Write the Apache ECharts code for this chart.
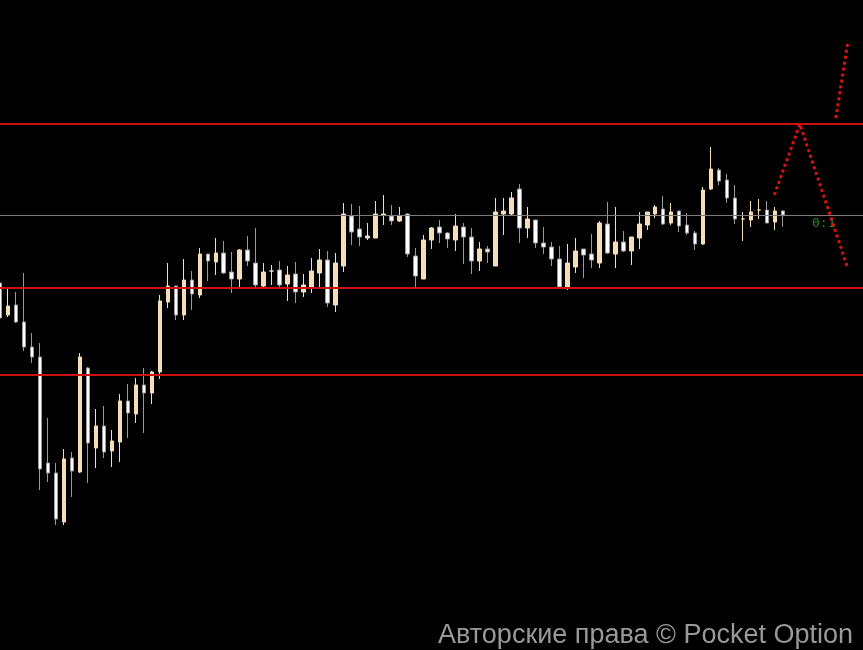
<!DOCTYPE html>
<html>
<head>
<meta charset="utf-8">
<script src="https://cdn.jsdelivr.net/npm/echarts@6/dist/echarts.min.js"></script>
<style>html,body{margin:0;padding:0;background:#000;}#c{width:863px;height:650px;}</style>
</head>
<body>
<div id="c"></div>
<script>
// Price values in arbitrary points (no axis labels in the reference)
var openVals  = [717,685,695,678,653,643,537,527,478,542,528,632,552,574,549,558,599,586,615,607,628,698,714,685,720,705,746,738,747,728,721,750,737,714,729,730,716,726,708,713,727,740,695,734,784,771,762,762,785,784,779,786,744,721,760,773,767,760,773,763,739,751,734,786,786,811,772,780,757,753,741,712,733,751,746,737,776,746,758,749,762,775,786,791,777,789,775,767,756,811,830,820,802,781,780,790,790,778,789];
var closeVals = [682,694,678,653,643,531,527,481,541,529,643,557,574,548,559,599,587,615,607,628,699,714,685,720,706,746,739,747,727,721,750,739,715,728,729,715,725,708,715,729,740,697,737,786,768,763,764,786,786,779,784,746,724,760,772,767,761,774,763,739,751,748,788,789,802,772,781,757,753,741,713,737,749,745,740,777,747,758,749,763,776,788,793,776,788,774,767,756,810,831,819,802,781,781,788,790,777,789,785];
var lowVals   = [677,683,677,649,637,510,518,475,475,503,527,517,532,542,533,538,562,577,567,596,621,692,680,680,690,702,719,725,726,707,713,734,713,713,715,713,699,697,703,707,713,693,688,728,755,754,760,762,775,775,778,743,713,721,751,757,752,749,736,726,729,737,734,765,785,757,762,752,746,734,712,710,727,722,732,732,746,732,748,735,751,770,782,775,775,768,765,750,755,810,815,797,776,759,773,781,777,770,773];
var highVals  = [727,711,708,727,667,657,582,537,551,548,647,633,591,594,570,606,616,622,632,629,705,737,714,741,729,752,746,762,759,748,751,764,772,737,735,739,734,738,726,742,751,749,747,797,796,794,777,799,805,795,793,787,752,765,773,780,768,786,777,772,758,754,802,802,808,816,793,780,773,758,754,756,762,751,766,779,798,793,769,763,788,788,795,804,797,789,787,769,813,853,832,826,815,788,799,801,799,793,790];
var totalSlots = 109;             // candle slots incl. empty future area
var levelLines = [876, 712, 625]; // red horizontal levels
var priceLine = 785;              // grey current-price line
var zigX = [96.9, 100.1, 106.0];  // dotted projection (slot units)
var zigY = [805, 876, 734];
var upX = [104.6, 106.1];
var upY = [882, 958];

var cats = [];
for (var i = 0; i < totalSlots; i++) cats.push(String(i));
var candles = openVals.map(function (o, i) { return [o, closeVals[i], lowVals[i], highVals[i]]; });

var chart = echarts.init(document.getElementById('c'), null, {renderer: 'canvas'});
chart.setOption({
  backgroundColor: '#000000',
  animation: false,
  grid: {left: 0, top: 0, right: 0, bottom: 0, containLabel: false},
  xAxis: [
    {type: 'category', data: cats, show: false, boundaryGap: false},
    {type: 'value', min: 0, max: totalSlots - 1, show: false}
  ],
  yAxis: [{type: 'value', min: 350, max: 1000, show: false, splitLine: {show: false}}],
  series: [
    {
      type: 'candlestick',
      xAxisIndex: 0,
      data: candles,
      barWidth: 4,
      itemStyle: {
        color: '#f5deb3', borderColor: '#f5deb3',
        color0: '#ffffff', borderColor0: '#9a9a9a', borderWidth: 1
      },
      markLine: {
        silent: true, symbol: ['none', 'none'], label: {show: false},
        data: [
          {yAxis: priceLine, lineStyle: {color: '#7d7d7d', width: 1, type: 'solid'}},
          {yAxis: levelLines[0], lineStyle: {color: '#cc1111', width: 2, type: 'solid'}},
          {yAxis: levelLines[1], lineStyle: {color: '#cc1111', width: 2, type: 'solid'}},
          {yAxis: levelLines[2], lineStyle: {color: '#cc1111', width: 2, type: 'solid'}}
        ]
      }
    },
    {
      type: 'line', xAxisIndex: 1, symbol: 'none',
      data: zigX.map(function (x, i) { return [x, zigY[i]]; }),
      lineStyle: {color: '#dd1111', width: 3, type: [3, 3], cap: 'butt'}
    },
    {
      type: 'line', xAxisIndex: 1, symbol: 'none',
      data: upX.map(function (x, i) { return [x, upY[i]]; }),
      lineStyle: {color: '#dd1111', width: 3, type: [3, 3], cap: 'butt'}
    }
  ],
  graphic: [
    {type: 'text', left: 812, top: 217,
     style: {text: '0:1', fill: '#2a8a2a', font: '13px "DejaVu Sans Mono", monospace'}},
    {type: 'text', right: 10, bottom: 1,
     style: {text: 'Авторские права © Pocket Option', fill: '#999999', font: '27px "Liberation Sans", Arial, sans-serif'}}
  ]
});
</script>
</body>
</html>
